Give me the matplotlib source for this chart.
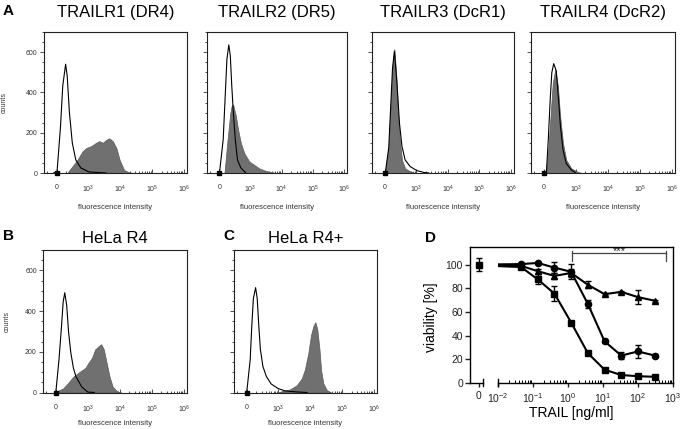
import numpy as np
import matplotlib
matplotlib.use('Agg')
from matplotlib import pyplot as plt
from matplotlib.ticker import MultipleLocator, LogLocator, NullFormatter

plt.rcParams['font.family'] = 'Liberation Sans'
plt.rcParams['mathtext.fontset'] = 'custom'
plt.rcParams['mathtext.rm'] = 'Liberation Sans'
plt.rcParams['mathtext.it'] = 'Liberation Sans:italic'
plt.rcParams['mathtext.bf'] = 'Liberation Sans:bold'

# ---- histogram data, x in display decades (2 = "0", 3 = 10^3 ...), y = counts ----
r1_open_u = [1.90, 2.01, 2.12, 2.19, 2.28, 2.33, 2.40, 2.49, 2.60, 2.76, 3.02, 3.56]
r1_open_n = [0, 5, 232, 432, 540, 482, 300, 150, 65, 25, 5, 0]
r1_fill_u = [2.33, 2.49, 2.65, 2.81, 2.94, 3.08, 3.24, 3.34, 3.45, 3.56, 3.66, 3.77, 3.88, 3.98, 4.12, 4.25, 4.41]
r1_fill_n = [0, 32, 65, 107, 125, 133, 150, 158, 150, 165, 172, 157, 123, 65, 15, 5, 0]

r2_open_u = [2.00, 2.12, 2.19, 2.24, 2.30, 2.35, 2.39, 2.44, 2.51, 2.58, 2.69, 2.85]
r2_open_n = [0, 165, 398, 565, 636, 582, 450, 315, 165, 65, 25, 0]
r2_fill_u = [2.16, 2.21, 2.26, 2.35, 2.39, 2.44, 2.53, 2.60, 2.69, 2.80, 2.96, 3.12, 3.28, 3.50, 3.71, 3.87]
r2_fill_n = [0, 82, 165, 298, 332, 340, 282, 215, 148, 98, 57, 40, 23, 10, 3, 0]

r3_open_u = [2.02, 2.13, 2.20, 2.25, 2.31, 2.39, 2.47, 2.55, 2.65, 2.81, 3.02, 3.24, 3.40]
r3_open_n = [0, 125, 355, 520, 605, 448, 248, 132, 65, 32, 12, 3, 0]
r3_fill_u = [2.02, 2.13, 2.20, 2.25, 2.31, 2.37, 2.42, 2.48, 2.55, 2.65, 2.81, 2.97]
r3_fill_n = [0, 132, 365, 532, 615, 482, 315, 165, 65, 23, 8, 0]

r4_open_u = [2.08, 2.14, 2.20, 2.25, 2.31, 2.39, 2.46, 2.52, 2.60, 2.70, 2.86, 3.00]
r4_open_n = [0, 165, 365, 498, 543, 507, 365, 232, 115, 48, 15, 0]
r4_fill_u = [2.07, 2.14, 2.21, 2.28, 2.36, 2.44, 2.51, 2.60, 2.70, 2.86, 3.07, 3.20]
r4_fill_n = [0, 115, 282, 448, 515, 432, 282, 148, 65, 23, 5, 0]

helaR4_open_u = [2.00, 2.10, 2.18, 2.23, 2.28, 2.34, 2.40, 2.47, 2.55, 2.63, 2.81, 3.00, 3.20]
helaR4_open_n = [0, 162, 328, 445, 490, 428, 295, 195, 120, 78, 28, 2, 0]
helaR4_fill_u = [1.95, 2.23, 2.39, 2.55, 2.76, 2.92, 3.02, 3.13, 3.23, 3.34, 3.42, 3.50, 3.59, 3.68, 3.78, 3.92, 4.05]
helaR4_fill_n = [0, 20, 48, 78, 103, 120, 145, 170, 212, 228, 237, 212, 145, 78, 28, 5, 0]

helaR4p_open_u = [2.00, 2.11, 2.16, 2.21, 2.28, 2.33, 2.38, 2.43, 2.51, 2.62, 2.77, 2.98, 3.20, 3.41, 3.67, 3.90]
helaR4p_open_n = [0, 162, 328, 462, 515, 462, 328, 212, 128, 78, 42, 20, 8, 5, 2, 0]
helaR4p_fill_u = [2.98, 3.14, 3.36, 3.57, 3.73, 3.83, 3.94, 4.02, 4.10, 4.16, 4.22, 4.29, 4.34, 4.41, 4.52, 4.65]
helaR4p_fill_n = [0, 8, 15, 35, 68, 112, 195, 280, 328, 345, 312, 212, 112, 45, 12, 0]

hist_ticks = [2, 3, 4, 5, 6]
hist_ticklabels = ['0', '$10^3$', '$10^4$', '$10^5$', '$10^6$']

# ---- viability data (panel D) ----
trail_conc = [0.046, 0.137, 0.41, 1.23, 3.7, 11.1, 33.3, 100, 300]
ctrl_mean = 100
ctrl_err = 5.3
sq_mean = [98, 87.5, 75.5, 51, 25, 11, 6.5, 5.5, 5]
sq_err = [1.5, 4.2, 6.4, 1, 1, 1, 1, 1, 1]
ci_mean = [100.5, 101.5, 97.5, 94, 66.7, 35, 23, 26.5, 23]
ci_err = [1, 1, 4.7, 6.5, 3.5, 1, 3, 5.2, 1]
tr_mean = [99, 94.5, 90.5, 93, 83, 75, 77, 72.5, 69.5]
tr_err = [1, 2, 2.5, 3, 3, 1, 1, 6, 1]
d_ticks = [1e-2, 1e-1, 1e0, 1e1, 1e2, 1e3]
d_ticklabels = ['$10^{-2}$', '$10^{-1}$', '$10^0$', '$10^1$', '$10^2$', '$10^3$']

W, H = 683, 429
fig = plt.figure(figsize=(W / 100, H / 100), dpi=100)


def box(l, t, r, b):
    # pixel box -> figure fraction
    return [l / W, 1 - b / H, (r - l) / W, (b - t) / H]


GREY = '#707070'


def hist_panel(rect, fu, fn, ou, on, title, tpad, show_y, xlab_y):
    ax = fig.add_axes(rect)
    ax.fill_between(fu, fn, 0, facecolor=GREY, edgecolor='#5a5a5a', lw=0.5, zorder=2)
    ax.plot(ou, on, color='black', lw=0.8, zorder=3)
    ax.set_xlim(1.6, 6.1)
    ax.set_ylim(0, 700)
    ax.set_xticks(hist_ticks)
    ax.set_xticklabels(hist_ticklabels)
    minor = [2 - np.log10(2)]
    for k in range(2, 6):
        minor += [k + np.log10(m) for m in range(2, 10)]
    ax.set_xticks(minor, minor=True)
    ax.set_yticks([0, 200, 400, 600])
    ax.yaxis.set_minor_locator(MultipleLocator(50))
    ax.tick_params(axis='x', which='major', direction='in', length=3, width=0.6,
                   pad=8, labelsize=5, colors='#333')
    ax.tick_params(axis='x', which='minor', direction='in', length=1.8, width=0.5)
    ax.tick_params(axis='y', which='major', direction='out', length=3, width=0.6,
                   pad=1.5, labelsize=5, colors='#333')
    ax.tick_params(axis='y', which='minor', direction='out', length=1.5, width=0.5)
    for s in ax.spines.values():
        s.set_linewidth(0.8)
        s.set_color('#222')
    if show_y is None:
        ax.set_yticklabels([])
    else:
        ax.set_ylabel('counts', fontsize=5, color='#333')
        ax.yaxis.set_label_coords(show_y, 0.5)
    ax.plot([2], [0], 's', color='black', ms=2.2, clip_on=False, zorder=5)
    ax.set_xlabel('fluorescence intensity', fontsize=5.5, color='#333')
    ax.xaxis.set_label_coords(0.5, xlab_y)
    ax.set_title(title, fontsize=12, pad=tpad)
    return ax


# row A
hist_panel(box(44, 32, 187, 173), r1_fill_u, r1_fill_n, r1_open_u, r1_open_n,
           'TRAILR1 (DR4)', 11, -0.25, -0.22)
hist_panel(box(207, 32, 347, 173), r2_fill_u, r2_fill_n, r2_open_u, r2_open_n,
           'TRAILR2 (DR5)', 11, None, -0.22)
hist_panel(box(372, 32, 514, 173), r3_fill_u, r3_fill_n, r3_open_u, r3_open_n,
           'TRAILR3 (DcR1)', 11, None, -0.22)
hist_panel(box(531, 32, 675, 173), r4_fill_u, r4_fill_n, r4_open_u, r4_open_n,
           'TRAILR4 (DcR2)', 11, None, -0.22)

# row B / C
hist_panel(box(43, 250, 187, 392.5), helaR4_fill_u, helaR4_fill_n, helaR4_open_u, helaR4_open_n,
           'HeLa R4', 4.8, -0.226, -0.193)
hist_panel(box(234, 250, 377, 392.5), helaR4p_fill_u, helaR4p_fill_n, helaR4p_open_u, helaR4p_open_n,
           'HeLa R4+', 4.8, None, -0.193)

# ---- panel D: frame with y axis, plus broken x axis ----
frame = fig.add_axes(box(470, 247, 673, 382.7))
frame.set_ylim(0, 115)
frame.set_xlim(0, 1)
frame.set_xticks([])
frame.spines['bottom'].set_visible(False)
for s in ['left', 'top', 'right']:
    frame.spines[s].set_linewidth(1)
frame.set_yticks(range(0, 101, 20))
frame.tick_params(axis='y', direction='out', length=3.5, width=1, pad=1.5, labelsize=7.5, colors='#222')
frame.set_ylabel('viability [%]', fontsize=10)
frame.yaxis.set_label_coords(-0.158, 0.484)
frame.set_xlabel('TRAIL [ng/ml]', fontsize=10)
frame.xaxis.set_label_coords(0.5, -0.17)

axL = fig.add_axes(box(470, 247, 483, 382.7))
axR = fig.add_axes(box(498, 247, 673, 382.7))
for a in (axL, axR):
    a.patch.set_visible(False)
    a.set_ylim(0, 115)
    a.set_yticks([])
    for s in ['left', 'top', 'right']:
        a.spines[s].set_visible(False)
    a.spines['bottom'].set_linewidth(1)
    a.tick_params(axis='x', which='major', direction='out', length=3, width=1, pad=3,
                  labelsize=7.5, colors='#222')

axL.set_xlim(-9, 4)
axL.set_xticks([0])
axL.set_xticklabels(['0'])
axL.plot([1, 1], [-0.025, 0.025], transform=axL.transAxes, color='k', lw=1, clip_on=False)

axR.set_xscale('log')
axR.set_xlim(1e-2, 1e3)
axR.set_xticks(d_ticks)
axR.set_xticklabels(d_ticklabels)
axR.xaxis.set_minor_locator(LogLocator(base=10, subs=np.arange(2, 10)))
axR.xaxis.set_minor_formatter(NullFormatter())
axR.tick_params(axis='x', which='minor', direction='in', length=2, width=0.7)
axR.plot([0, 0], [-0.025, 0.025], transform=axR.transAxes, color='k', lw=1, clip_on=False)

# control (0 ng/ml) and the line leaving it across the axis break
axL.plot([0, 50], [ctrl_mean, ctrl_mean], color='k', lw=1.5)
axL.errorbar([0], [ctrl_mean], yerr=[ctrl_err], fmt='s', color='k', ms=4.5,
             capsize=2.5, elinewidth=1, capthick=1, clip_on=False)

for mean, err, mk, ms in [(tr_mean, tr_err, '^', 5), (ci_mean, ci_err, 'o', 4.5), (sq_mean, sq_err, 's', 4.5)]:
    axR.plot([1e-3] + trail_conc[:1], [ctrl_mean, mean[0]], color='k', lw=1.5)
    axR.errorbar(trail_conc, mean, yerr=err, fmt='-' + mk, color='k', lw=1.5, ms=ms,
                 capsize=2.5, elinewidth=1, capthick=1)

# significance bracket
axR.plot([1.3, 630], [110, 110], color='#444', lw=0.9)
axR.plot([1.3, 1.3], [103, 112], color='#444', lw=0.9)
axR.plot([630, 630], [103, 112], color='#444', lw=0.9)
axR.text(29, 107.5, '***', ha='center', va='bottom', fontsize=8, color='#111')

# panel letters
fig.text(3 / W, 1 - 15 / H, 'A', fontsize=11, weight='bold', va='baseline')
fig.text(3 / W, 1 - 240 / H, 'B', fontsize=11, weight='bold', va='baseline')
fig.text(223 / W, 1 - 240 / H, 'C', fontsize=11, weight='bold', va='baseline')
fig.text(425 / W, 1 - 241.5 / H, 'D', fontsize=11, weight='bold', va='baseline')

fig.savefig('out.png', dpi=100)
